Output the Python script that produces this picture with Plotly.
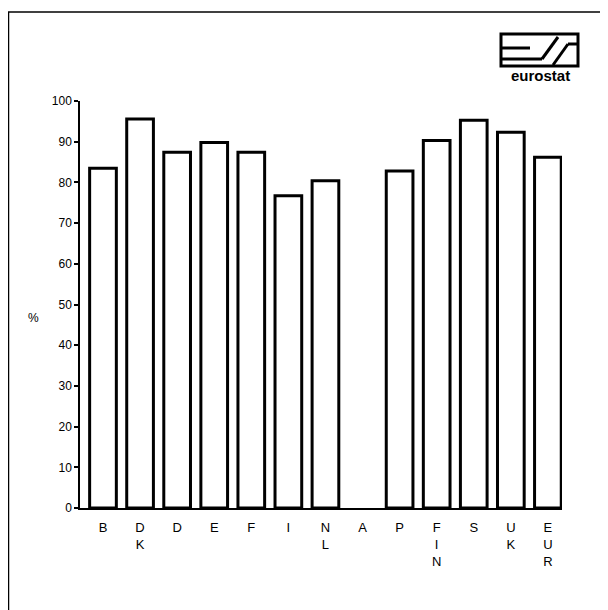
import plotly.graph_objects as go

countries = ['B', 'D<br>K', 'D', 'E', 'F', 'I', 'N<br>L', 'A', 'P', 'F<br>I<br>N', 'S', 'U<br>K', 'E<br>U<br>R']
values = [83.5, 95.6, 87.4, 89.8, 87.4, 76.7, 80.4, None, 82.8, 90.3, 95.3, 92.3, 86.2]
y_ticks = list(range(0, 101, 10))

# the page body has an 8px margin, so the figure starts at (8, 8)
OFF = 8
W, H = 608 - OFF, 610 - OFF
L, R, T, B = 80, 562, 101, 508   # plot area in page pixels
FONT = 'Liberation Sans, Arial, sans-serif'


def px(x):
    return (x - L) / (R - L)


def py(y):
    return (B - y) / (B - T)


fig = go.Figure()
fig.add_trace(go.Bar(
    x=list(range(len(countries))), y=values,
    width=0.72,
    marker=dict(color='white', line=dict(color='black', width=3)),
    showlegend=False,
))

shapes = []


def line(x0, y0, x1, y1, w=1.5):
    shapes.append(dict(type='line', xref='paper', yref='paper',
                       x0=px(x0), y0=py(y0), x1=px(x1), y1=py(y1),
                       line=dict(color='black', width=w)))


# page frame
line(8.5, 12, 8.5, 612, 1.5)
line(8, 12, 606, 12, 1.5)

# eurostat logo
shapes.append(dict(type='rect', xref='paper', yref='paper',
                   x0=px(501), y0=py(34), x1=px(578), y1=py(66),
                   line=dict(color='black', width=3)))
line(502, 48, 530, 48, 3)
line(502, 59, 542, 59, 3)
line(542, 59, 558, 37, 3)
line(553, 65, 568, 44, 3)
line(568, 44, 577, 44, 3)

fig.update_layout(
    width=W, height=H,
    margin=dict(l=L - OFF, r=608 - R, t=T - OFF, b=610 - B),
    paper_bgcolor='white', plot_bgcolor='white',
    font=dict(family=FONT, size=12, color='black'),
    shapes=shapes,
    xaxis=dict(
        range=[-0.62, 12.38],
        tickmode='array', tickvals=list(range(len(countries))), ticktext=countries,
        showline=True, linecolor='black', linewidth=1.5,
        ticks='', showgrid=False, zeroline=False,
        ticklabelstandoff=7,
        tickfont=dict(size=13, family=FONT, color='black'),
    ),
    yaxis=dict(
        range=[0, 100],
        tickmode='array', tickvals=y_ticks,
        showline=True, linecolor='black', linewidth=1.5,
        ticks='outside', ticklen=4, tickwidth=1.5, tickcolor='black',
        showgrid=False, zeroline=False,
        tickfont=dict(size=12, family=FONT, color='black'),
    ),
    annotations=[
        dict(text='%', xref='paper', yref='paper', x=px(33), y=py(318),
             xanchor='center', yanchor='middle',
             showarrow=False, font=dict(size=12, family=FONT, color='black')),
        dict(text='<b>eurostat</b>', xref='paper', yref='paper', x=px(540), y=py(75),
             xanchor='center', yanchor='middle',
             showarrow=False, font=dict(size=15, family=FONT, color='black')),
    ],
)

fig.write_html('out.html')
